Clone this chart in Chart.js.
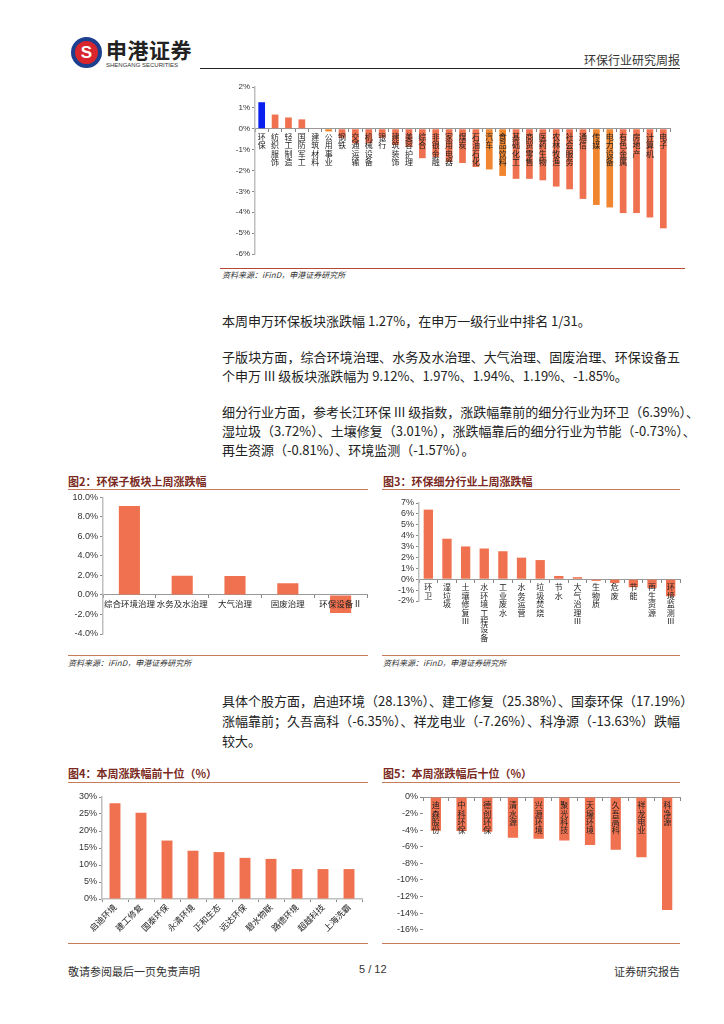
<!DOCTYPE html>
<html>
<head>
<meta charset="utf-8">
<script src="https://cdn.jsdelivr.net/npm/chart.js@4.4.1/dist/chart.umd.min.js"></script>
<style>
  body { margin: 0; width: 724px; height: 1024px; background: #fff; position: relative; overflow: hidden;
         font-family: "Noto Sans CJK SC", sans-serif; color: #222; }
  .abs { position: absolute; }
  .line { position: absolute; height: 0; }
  .para { position: absolute; left: 222px; width: 458px; font-size: 13px; line-height: 19px; white-space: nowrap; }
  .just { text-align: justify; text-align-last: justify; }
  .title { position: absolute; font-size: 11px; font-weight: bold; color: #7a2a22; }
  .src { position: absolute; font-size: 8px; font-style: italic; color: #333; }
  .box { position: absolute; }
</style>
</head>
<body>

<!-- header -->
<div class="abs" style="left:71px;top:37px;width:23px;height:23px;border:4px solid #1d3f8f;border-radius:50%;background:#d8262c;color:#fff;font:bold 17px 'Liberation Sans';text-align:center;line-height:23px;">S</div>
<div class="abs" style="left:106px;top:34px;font-size:21px;font-weight:bold;color:#222;letter-spacing:0.5px;">申港证券</div>
<div class="abs" style="left:106px;top:62px;font:6px 'Liberation Sans';color:#333;">SHENGANG SECURITIES</div>
<div class="line" style="left:200px;top:68px;width:480px;border-top:1px solid #222;"></div>
<div class="abs" style="right:44px;top:51px;font-size:12px;color:#333;">环保行业研究周报</div>

<!-- chart 1 -->
<div class="box" style="left:220px;top:78px;width:470px;height:190px;"><canvas id="c1"></canvas></div>
<div class="line" style="left:220px;top:268px;width:465px;border-top:1.5px solid #b34a33;"></div>
<div class="src" style="left:222px;top:269px;">资料来源：iFinD，申港证券研究所</div>

<!-- paragraphs -->
<div class="para" style="top:311px;">本周申万环保板块涨跌幅 1.27%，在申万一级行业中排名 1/31。</div>
<div class="para just" style="top:347px;">子版块方面，综合环境治理、水务及水治理、大气治理、固废治理、环保设备五</div>
<div class="para" style="top:366px;">个申万 III 级板块涨跌幅为 9.12%、1.97%、1.94%、1.19%、-1.85%。</div>
<div class="para just" style="top:402px;">细分行业方面，参考长江环保 III 级指数，涨跌幅靠前的细分行业为环卫（6.39%）、</div>
<div class="para just" style="top:421px;">湿垃圾（3.72%）、土壤修复（3.01%），涨跌幅靠后的细分行业为节能（-0.73%）、</div>
<div class="para" style="top:440px;">再生资源（-0.81%）、环境监测（-1.57%）。</div>

<!-- chart 2 / 3 -->
<div class="title" style="left:68px;top:473px;">图2：环保子板块上周涨跌幅</div>
<div class="line" style="left:68px;top:489px;width:300px;border-top:1.5px solid #c87b5b;"></div>
<div class="box" style="left:60px;top:490px;width:310px;height:160px;"><canvas id="c2"></canvas></div>
<div class="line" style="left:68px;top:655px;width:300px;border-top:1.5px solid #c87b5b;"></div>
<div class="src" style="left:68px;top:657px;">资料来源：iFinD，申港证券研究所</div>

<div class="title" style="left:383px;top:473px;">图3：环保细分行业上周涨跌幅</div>
<div class="line" style="left:382px;top:489px;width:298px;border-top:1.5px solid #c87b5b;"></div>
<div class="box" style="left:375px;top:495px;width:315px;height:158px;"><canvas id="c3"></canvas></div>
<div class="line" style="left:382px;top:655px;width:298px;border-top:1.5px solid #c87b5b;"></div>
<div class="src" style="left:383px;top:657px;">资料来源：iFinD，申港证券研究所</div>

<!-- paragraph 2 -->
<div class="para just" style="top:691px;">具体个股方面，启迪环境（28.13%）、建工修复（25.38%）、国泰环保（17.19%）</div>
<div class="para just" style="top:711px;">涨幅靠前；久吾高科（-6.35%）、祥龙电业（-7.26%）、科净源（-13.63%）跌幅</div>
<div class="para" style="top:731px;">较大。</div>

<!-- chart 4 / 5 -->
<div class="title" style="left:68px;top:765px;">图4：本周涨跌幅前十位（%）</div>
<div class="line" style="left:68px;top:782px;width:300px;border-top:1.5px solid #c87b5b;"></div>
<div class="box" style="left:60px;top:787px;width:310px;height:155px;"><canvas id="c4"></canvas></div>
<div class="line" style="left:68px;top:943px;width:300px;border-top:1.5px solid #c87b5b;"></div>

<div class="title" style="left:383px;top:765px;">图5：本周涨跌幅后十位（%）</div>
<div class="line" style="left:382px;top:782px;width:298px;border-top:1.5px solid #c87b5b;"></div>
<div class="box" style="left:375px;top:787px;width:315px;height:150px;"><canvas id="c5"></canvas></div>
<div class="line" style="left:382px;top:943px;width:298px;border-top:1.5px solid #c87b5b;"></div>

<!-- footer -->
<div class="abs" style="left:68px;top:963px;font-size:11px;color:#333;">敬请参阅最后一页免责声明</div>
<div class="abs" style="left:359px;top:963px;font:11px 'Liberation Sans';color:#333;">5 / 12</div>
<div class="abs" style="right:44px;top:963px;font-size:11px;color:#333;">证券研究报告</div>

<script>
// 图1：申万一级行业周涨跌幅
const inds = ["环保","纺织服饰","轻工制造","国防军工","建筑材料","公用事业","钢铁","交通运输","机械设备","银行",
  "建筑装饰","美容护理","综合","非银金融","家用电器","煤炭","石油石化","汽车","食品饮料","基础化工",
  "商贸零售","医药生物","农林牧渔","社会服务","通信","传媒","电力设备","有色金属","房地产","计算机","电子"];
const indChg = [1.27,0.68,0.54,0.45,0.02,-0.13,-0.43,-0.70,-0.70,-0.43,
  -0.78,-0.86,-1.41,-1.35,-1.59,-1.64,-1.83,-1.95,-2.26,-2.40,
  -2.40,-2.47,-2.77,-2.90,-3.36,-3.65,-3.77,-4.04,-4.04,-4.25,-4.77];

// 图2：环保子板块
const subs = ["综合环境治理","水务及水治理","大气治理","固废治理","环保设备Ⅱ"];
const subChg = [9.12,1.97,1.94,1.19,-1.85];

// 图3：环保细分行业
const segs = ["环卫","湿垃圾","土壤修复Ⅲ","水环境工程设备","工业废水","水务运营","垃圾焚烧","节水","大气治理Ⅲ","生物质","危废","节能","再生资源","环境监测Ⅲ"];
const segChg = [6.39,3.72,3.01,2.82,2.57,1.98,1.76,0.30,0.19,-0.15,-0.35,-0.73,-0.81,-1.57];

// 图4：涨幅前十
const topNames = ["启迪环境","建工修复","国泰环保","永清环境","正和生态","远达环保","碧水物联","路德环境","超越科技","上海洗霸"];
const topChg = [28.13,25.38,17.19,14.2,13.8,12.1,11.8,8.8,8.8,8.8];

// 图5：跌幅前十
const lowNames = ["迪森股份","中科环保","德创环保","清水源","兴源环境","聚光科技","天壕环境","久吾高科","祥龙电业","科净源"];
const lowChg = [-4.08,-4.10,-4.20,-4.92,-5.04,-5.24,-5.80,-6.35,-7.26,-13.63];

// 样式
const CORAL = "#f0714f";
const ORANGE = "#f0862f";
const BLUE = "#0a1ff0";
const orangeSet = ["公用事业","汽车","食品饮料","传媒","电力设备"];
const NUM = "'Liberation Sans', Arial, sans-serif";
const CJK = "'Noto Sans CJK SC', sans-serif";
const AXIS = "#bfbfbf";

Chart.defaults.animation = false;
Chart.defaults.color = "#333";

const vertical = s => Array.from(s);

function yAxis(min, max, step, width, fmt, showBorder, size) {
  return {
    min, max,
    ticks: { stepSize: step, autoSkip: false, font: { family: NUM, size: size || 9 }, color: "#333", padding: 2, callback: fmt },
    grid: { drawOnChartArea: false, tickLength: 3, color: "#888" },
    border: { display: showBorder, color: AXIS, width: 1.5 },
    afterFit: s => { s.width = width; }
  };
}

function centerX(fontSize, lh) {
  return {
    position: { y: 0 },
    ticks: { z: 1, autoSkip: false, maxRotation: 0, minRotation: 0, padding: 1,
             font: { family: CJK, size: fontSize, lineHeight: lh }, color: "#222" },
    grid: { drawOnChartArea: false, tickLength: 3, color: "#888", offset: true },
    border: { color: "#999", width: 1 },
    afterFit: s => { s.height = 0; }
  };
}

function barChart(id, labels, data, colors, barPct, x, y, padding) {
  return new Chart(document.getElementById(id), {
    type: "bar",
    data: { labels, datasets: [{ data, backgroundColor: colors, barPercentage: barPct, categoryPercentage: 1 }] },
    options: {
      responsive: true,
      maintainAspectRatio: false,
      layout: { padding },
      plugins: { legend: { display: false }, tooltip: { enabled: false } },
      scales: { x, y }
    }
  });
}

// 图1
barChart("c1", inds.map(vertical), indChg,
  inds.map((n, i) => i === 0 ? BLUE : (orangeSet.includes(n) ? ORANGE : CORAL)), 0.5,
  centerX(8, 1.05),
  yAxis(-6, 2, 1, 35, v => v + "%", true, 8),
  { top: 9, right: 20, bottom: 14, left: 0 });

// 图2
barChart("c2", subs, subChg, CORAL, 0.4,
  centerX(8.5, 1.1),
  yAxis(-4, 10, 2, 43, v => v.toFixed(1) + "%", true),
  { top: 7, right: 3, bottom: 16, left: 0 });

// 图3
barChart("c3", segs.map(vertical), segChg, CORAL, 0.5,
  centerX(8, 1.05),
  yAxis(-2, 7, 1, 44, v => v + "%", true),
  { top: 8, right: 10, bottom: 52, left: 0 });

// 图4
barChart("c4", topNames, topChg, CORAL, 0.42,
  {
    ticks: { autoSkip: false, maxRotation: 45, minRotation: 45, padding: 0,
             font: { family: CJK, size: 8.5 }, color: "#222" },
    grid: { drawOnChartArea: false, tickLength: 3, color: "#888", offset: true },
    border: { color: AXIS, width: 1.5 },
    afterFit: s => { s.height = 43; }
  },
  yAxis(0, 30, 5, 42, v => v + "%", true),
  { top: 10, right: 8, bottom: 0, left: 0 });

// 图5
barChart("c5", lowNames.map(vertical), lowChg, CORAL, 0.4,
  centerX(8, 1.05),
  yAxis(-16, 0, 2, 48, v => v + "%", false),
  { top: 10, right: 10, bottom: 7, left: 0 });
</script>
</body>
</html>
